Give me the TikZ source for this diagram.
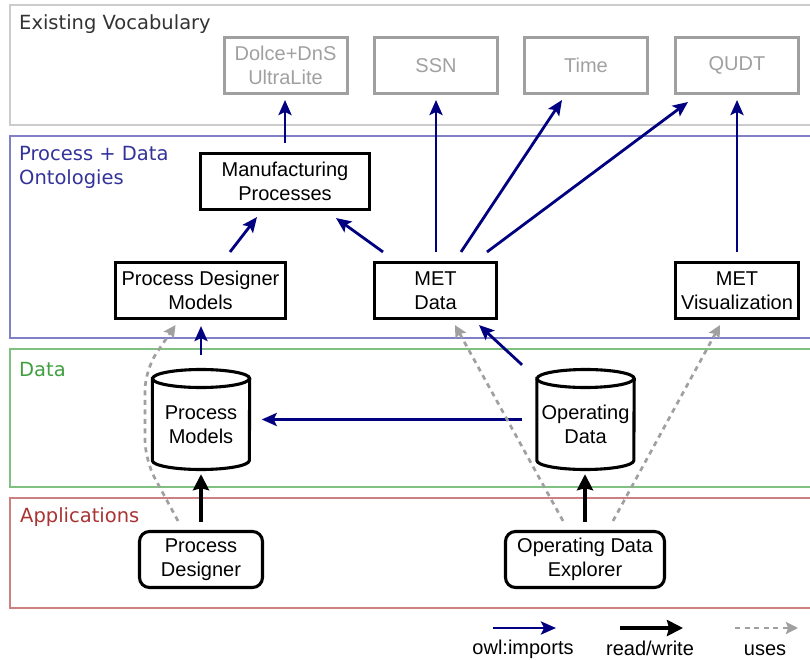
\documentclass[tikz,border=0pt]{standalone}
\usepackage{fontspec}
\setmainfont{Liberation Sans}
\newfontfamily\lanefont{DejaVu Sans}
\usetikzlibrary{arrows.meta,calc}
\definecolor{navy}{HTML}{000080}
\definecolor{usegray}{HTML}{A0A0A0}
\definecolor{vocgray}{HTML}{A0A0A0}
\definecolor{lanegray}{HTML}{CCCCCC}
\definecolor{laneblue}{HTML}{8080C8}
\definecolor{lanegreen}{HTML}{80C080}
\definecolor{lanered}{HTML}{CC8080}
\definecolor{txtgray}{HTML}{333333}
\definecolor{txtblue}{HTML}{333399}
\definecolor{txtgreen}{HTML}{40A040}
\definecolor{txtred}{HTML}{AA3333}
\tikzset{
  lane/.style={line width=1.6pt},
  lanelabel/.style={font=\lanefont\fontsize{19.5}{24}\selectfont, inner sep=0pt, anchor=base west},
  nodetext/.style={font=\fontsize{20}{24}\selectfont, align=center},
  vocab/.style={nodetext, draw=vocgray, text=vocgray, line width=3pt, minimum width=123pt, minimum height=56pt, inner sep=0pt},
  onto/.style={nodetext, draw=black, line width=3.1pt, minimum height=56pt, inner sep=0pt},
  app/.style={nodetext, draw=black, line width=3.1pt, minimum height=56pt, inner sep=0pt, rounded corners=10pt},
  cyltext/.style={nodetext, minimum width=97pt, minimum height=97pt, inner sep=0pt},
  cylline/.style={line width=3.1pt},
  imp/.style={draw=navy, line width=2.8pt, -{Stealth[length=15pt,width=13pt,inset=3pt]}},
  rw/.style={draw=black, line width=3.5pt, -{Stealth[length=16pt,width=16pt,inset=2pt]}},
  uses/.style={draw=usegray, line width=2.7pt, dash pattern=on 5pt off 4.5pt, -{Stealth[length=12pt,width=12pt,inset=2pt]}},
  legtext/.style={font=\fontsize{20}{24}\selectfont, inner sep=0pt, anchor=base}
}
\newcommand{\cyltxt}[2]{\raisebox{-12.5pt}[0pt][0pt]{\begin{tabular}{@{}c@{}}#1\\#2\end{tabular}}}
\begin{document}
\begin{tikzpicture}[x=1pt,y=-1pt]
\useasboundingbox (0,0) rectangle (810,660);
% lanes
\draw[lane, draw=lanegray] (10,5) rectangle (830,125);
\draw[lane, draw=laneblue] (10,136) rectangle (830,338);
\draw[lane, draw=lanegreen] (10,349) rectangle (830,487);
\draw[lane, draw=lanered] (10,498) rectangle (830,608);
\node[lanelabel, text=txtgray] (lv) at (19,30) {Existing Vocabulary};
\node[lanelabel, text=txtblue, align=left, anchor=north west] (lo) at (19,146) {Process + Data\\Ontologies};
\node[lanelabel, text=txtgreen] (ld) at (19,376) {Data};
\node[lanelabel, text=txtred] (la) at (20,522) {Applications};
% vocabulary
\node[vocab] (dolce) at (285.5,65.5) {Dolce+DnS\\UltraLite};
\node[vocab] (ssn) at (436,65.5) {SSN};
\node[vocab] (time) at (586,65.5) {Time};
\node[vocab] (qudt) at (737,65.5) {QUDT};
% ontologies
\node[onto, minimum width=169pt] (mp) at (285,181.5) {Manufacturing\\Processes};
\node[onto, minimum width=170pt] (pdm) at (200.5,290.5) {Process Designer\\Models};
\node[onto, minimum width=122pt] (metd) at (435.5,290.5) {MET\\Data};
\node[onto, minimum width=123pt] (metv) at (737,290.5) {MET\\Visualization};
% data cylinders
\node[cyltext] (pm) at (201,419.5) {\cyltxt{Process}{Models}};
\node[cyltext] (od) at (585.5,419.5) {\cyltxt{Operating}{Data}};
\foreach \c in {pm,od}{
  \draw[cylline] ($(\c.west)+(0,-41)$) -- ($(\c.west)+(0,41)$)
     arc[start angle=180,end angle=360,x radius=48.5,y radius=-9]
     -- ($(\c.east)+(0,-41)$)
     arc[start angle=0,end angle=180,x radius=48.5,y radius=-9] -- cycle;
  \draw[cylline] ($(\c.west)+(0,-41)$) arc[start angle=180,end angle=360,x radius=48.5,y radius=-9];
}
% applications
\node[app, minimum width=123pt] (pd) at (201,559.5) {Process\\Designer};
\node[app, minimum width=159pt] (ode) at (585,559.5) {Operating Data\\Explorer};
% owl:imports
\draw[imp] ($(mp.north)+(0,-9)$) -- ($(dolce.south)+(-0.5,5)$);
\draw[imp] ($(pdm.north)+(29.5,-9)$) -- ($(mp.south)+(-28,6)$);
\draw[imp] ($(metd.north)+(-52.5,-9)$) -- ($(mp.south)+(51,7)$);
\draw[imp] ($(metd.north)+(0.5,-9)$) -- ($(ssn.south)+(0,5)$);
\draw[imp] ($(metd.north)+(25.5,-9)$) -- ($(time.south)+(-24,5)$);
\draw[imp] ($(metd.north)+(51.5,-9)$) -- ($(qudt.south)+(-49,7)$);
\draw[imp] ($(metv.north)+(0,-9)$) -- ($(qudt.south)+(0,5)$);
\draw[imp] ($(pm.north)+(0,-16)$) -- ($(pdm.south)+(0.5,6)$);
\draw[imp] ($(od.north)+(-63.5,-6)$) -- ($(metd.south)+(43.5,5)$);
\draw[imp] ($(od.west)+(-15,0)$) -- ($(pm.east)+(12,0)$);
% read/write
\draw[rw] ($(pd.north)+(0,-8)$) -- ($(pm.south)+(0,6)$);
\draw[rw] ($(ode.north)+(0,-8)$) -- ($(od.south)+(-0.5,6)$);
% uses
\draw[uses, rounded corners=20pt] ($(pd.north)+(-23,-9)$) -- (145,460) -- (145,370) -- ($(pdm.south)+(-25,5)$);
\draw[uses] ($(ode.north)+(-22,-9)$) -- ($(metd.south)+(19.5,5)$);
\draw[uses] ($(ode.north)+(28,-9)$) -- ($(metv.south)+(-17,5)$);
% legend
\coordinate (l1a) at (493,628); \coordinate (l1b) at (556,628);
\coordinate (l2a) at (620,628); \coordinate (l2b) at (683,628);
\coordinate (l3a) at (735,628); \coordinate (l3b) at (798,628);
\draw[imp] (l1a) -- (l1b);
\draw[rw] (l2a) -- (l2b);
\draw[uses] (l3a) -- (l3b);
\node[legtext] (t1) at (523,654) {owl:imports};
\node[legtext] (t2) at (650,655) {read/write};
\node[legtext] (t3) at (765,655) {uses};
\end{tikzpicture}
\end{document}
